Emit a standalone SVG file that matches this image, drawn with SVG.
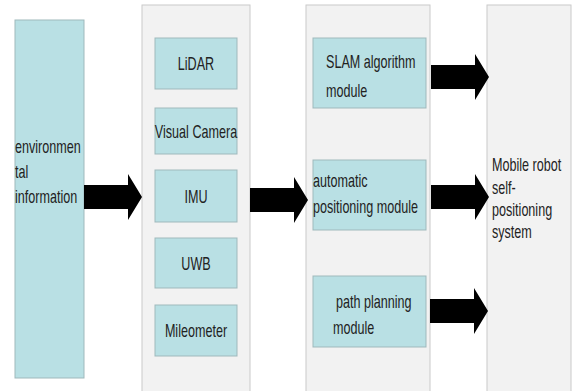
<svg xmlns="http://www.w3.org/2000/svg" width="574" height="391" viewBox="0 0 574 391">
<style>
.bg{fill:#ffffff}
.panel{fill:#f2f2f2;stroke:#cacaca;stroke-width:1}
.box{fill:#b9e0e4;stroke:#9fb9bc;stroke-width:1}
.t{font-family:"Liberation Sans",Arial,sans-serif;font-size:18px;fill:#222}
.c{text-anchor:middle}
.arrow{fill:#000}
</style>
<defs>
<path id="arr" d="M0,-12 L44,-12 L44,-23 L58,0 L44,23 L44,12 L0,12 Z"/>
</defs>
<rect class="bg" x="0" y="0" width="574" height="391"/>
<g id="env">
<rect class="box" x="15" y="20" width="69" height="358"/>
<text class="t" transform="translate(15,153) scale(0.7,1)">environmen</text>
<text class="t" transform="translate(15,178) scale(0.7,1)">tal</text>
<text class="t" transform="translate(15,203) scale(0.7,1)">information</text>
</g>
<g id="sensors">
<rect class="panel" x="142" y="5" width="108" height="392"/>
<g id="lidar"><rect class="box" x="155" y="38" width="82" height="51"/><text class="t c" transform="translate(196,70) scale(0.7,1)">LiDAR</text></g>
<g id="camera"><rect class="box" x="155" y="108" width="82" height="46"/><text class="t c" transform="translate(196,138) scale(0.7,1)">Visual Camera</text></g>
<g id="imu"><rect class="box" x="155" y="170" width="82" height="52"/><text class="t c" transform="translate(196,203) scale(0.7,1)">IMU</text></g>
<g id="uwb"><rect class="box" x="155" y="238" width="82" height="50"/><text class="t c" transform="translate(196,270) scale(0.7,1)">UWB</text></g>
<g id="mileometer"><rect class="box" x="155" y="305" width="82" height="51"/><text class="t c" transform="translate(196,337) scale(0.7,1)">Mileometer</text></g>
</g>
<g id="modules">
<rect class="panel" x="306" y="5" width="124" height="392"/>
<g id="slam"><rect class="box" x="313" y="38" width="113" height="70"/>
<text class="t" transform="translate(326,68) scale(0.7,1)">SLAM algorithm</text>
<text class="t" transform="translate(326,97) scale(0.7,1)">module</text></g>
<g id="autopos"><rect class="box" x="313" y="160" width="113" height="70"/>
<text class="t" transform="translate(313,187) scale(0.7,1)">automatic</text>
<text class="t" transform="translate(313,213) scale(0.7,1)">positioning module</text></g>
<g id="pathplan"><rect class="box" x="313" y="276" width="113" height="71"/>
<text class="t" transform="translate(336,308) scale(0.7,1)">path planning</text>
<text class="t" transform="translate(333,334) scale(0.7,1)">module</text></g>
</g>
<g id="system">
<rect class="panel" x="487" y="5" width="84" height="392"/>
<text class="t" transform="translate(492,171) scale(0.7,1)">Mobile robot</text>
<text class="t" transform="translate(492,194) scale(0.7,1)">self-</text>
<text class="t" transform="translate(492,216) scale(0.7,1)">positioning</text>
<text class="t" transform="translate(492,238) scale(0.7,1)">system</text>
</g>
<g id="connectors" class="arrow">
<use href="#arr" transform="translate(84,197)"/>
<use href="#arr" transform="translate(250,200)"/>
<use href="#arr" transform="translate(431,77)"/>
<use href="#arr" transform="translate(431,197)"/>
<use href="#arr" transform="translate(430,311)"/>
</g>
</svg>
